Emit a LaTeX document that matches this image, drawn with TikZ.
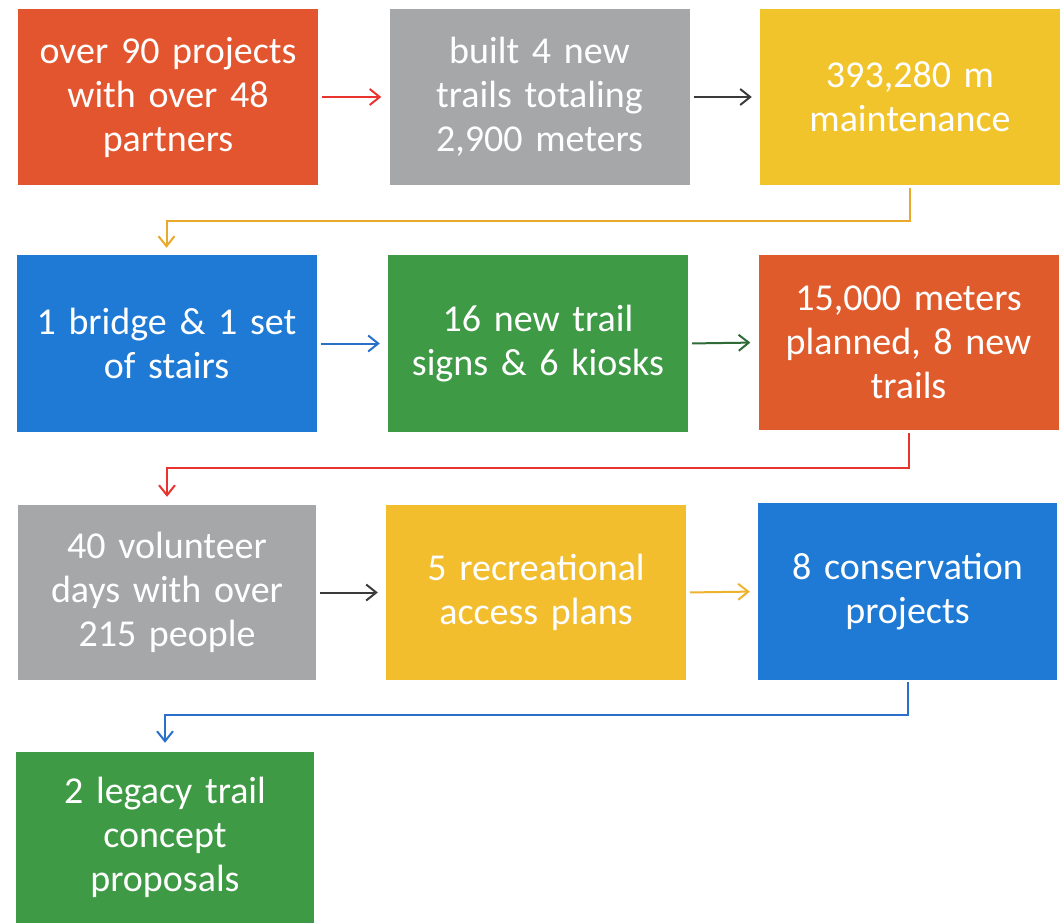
\documentclass[tikz,border=0pt]{standalone}
\usepackage{fontspec}
\setmainfont{Carlito}
\usetikzlibrary{arrows.meta}
\definecolor{cRed}{HTML}{E3552F}
\definecolor{cOrange}{HTML}{E05B2B}
\definecolor{cGray}{HTML}{A5A7A9}
\definecolor{cYellow}{HTML}{F1C42C}
\definecolor{cYellowB}{HTML}{F2BE2E}
\definecolor{cBlue}{HTML}{1E7AD5}
\definecolor{cGreen}{HTML}{3F9A46}
\definecolor{aRed}{HTML}{E8332F}
\definecolor{aDark}{HTML}{3A3A3A}
\definecolor{aOrange}{HTML}{E9A92A}
\definecolor{aBlue}{HTML}{2A6FC8}
\definecolor{aGreen}{HTML}{2F6B36}
\definecolor{aYellow}{HTML}{EDB32E}
\tikzset{
  box/.style={draw=none, minimum width=300pt, minimum height=175pt, text width=296pt,
    align=center, text=white, inner sep=0pt, font=\fontsize{38}{44}\selectfont},
  arr/.style={line width=2pt, -{Straight Barb[length=10pt,width=16pt,line width=2pt]}},
  harr/.style={arr, shorten <=4pt, shorten >=8pt},
}
\begin{document}
\begin{tikzpicture}[x=1pt,y=-1pt]
\useasboundingbox (0,0) rectangle (1063,923);
\fill[white] (0,0) rectangle (1063,923);
\node[box, fill=cRed] (b1) at (168,97) {over 90 projects\\with over 48\\partners};
\node[box, fill=cGray] (b2) at (539.5,97) {built 4 new\\trails totaling\\2,900 meters};
\node[box, fill=cYellow] (b3) at (910,97) {393,280 m\\maintenance};
\node[box, fill=cBlue, minimum height=177pt] (b4) at (166.5,343.5) {1 bridge \& 1 set\\of stairs};
\node[box, fill=cGreen, minimum height=177pt] (b5) at (538,343.5) {16 new trail\\signs \& 6 kiosks};
\node[box, fill=cOrange] (b6) at (908.5,342.5) {15,000 meters\\planned, 8 new\\trails};
\node[box, fill=cGray, minimum width=298pt] (b7) at (167,592.5) {40 volunteer\\days with over\\215 people};
\node[box, fill=cYellowB] (b8) at (536,592.5) {5 recreational\\access plans};
\node[box, fill=cBlue, minimum width=299pt, minimum height=177pt] (b9) at (907.5,591.5) {8 conservation\\projects};
\node[box, fill=cGreen, minimum width=298pt, minimum height=171pt] (b10) at (165,837.5) {2 legacy trail\\concept\\proposals};
% horizontal arrows
\draw[harr, aRed] (b1.east) -- (b2.west);
\draw[harr, aDark] (b2.east) -- (b3.west);
\draw[harr, aBlue] (b4.east) -- (b5.west);
\draw[harr, aGreen] (b5.east) -- (b6.west);
\draw[harr, aDark] (b7.east) -- (b8.west);
\draw[harr, aYellow] (b8.east) -- (b9.west);
% elbow connectors
\draw[arr, aOrange, shorten <=3pt, shorten >=7pt] (b3.south) -- ([yshift=-36pt]b3.south) -| (b4.north);
\draw[arr, aRed, shorten <=3pt, shorten >=8pt] (b6.south) -- ([yshift=-38pt]b6.south) -| (b7.north);
\draw[arr, aBlue, shorten <=2pt, shorten >=9pt] (b9.south) -- ([yshift=-35pt]b9.south) -| (b10.north);
\end{tikzpicture}
\end{document}
